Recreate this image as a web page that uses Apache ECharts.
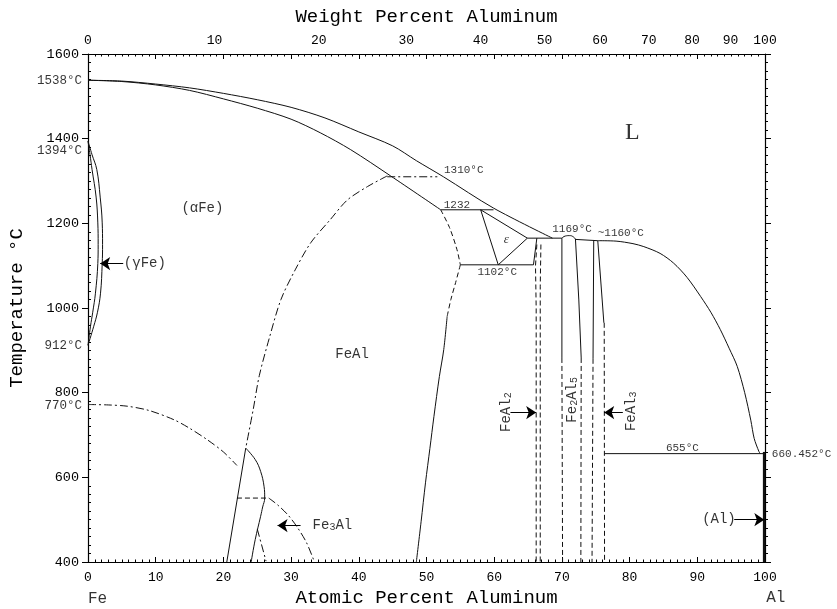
<!DOCTYPE html>
<html><head><meta charset="utf-8">
<script src="https://cdn.jsdelivr.net/npm/echarts@6/dist/echarts.min.js"></script>
<style>html,body{margin:0;padding:0;background:#fff}#c{width:837px;height:609px}</style>
</head><body><div id="c"></div>
<script>
// ---------- tick labels ----------
const weightTicks = [0,10,20,30,40,50,60,70,80,90,100];
const tempTicks = [400,600,800,1000,1200,1400,1600];

// ---------- phase boundaries (atomic % Al, °C) ----------
const liquidusFe = [[0,1538],[5,1536],[10,1529],[15,1520],[20,1507],[25,1492],[30,1474],[35,1449],[40,1416],[45,1383],[48.5,1348],[52.5,1310],[59.9,1236],[68.6,1165]];
const solidusFe = [[0,1538],[5,1535],[10,1527],[15,1514],[20,1494],[25,1472],[30,1446],[34.3,1414],[38.8,1374],[44.7,1312],[52.1,1232]];
const gammaOuter = [[0,1394],[0.6,1362],[1.3,1327],[1.8,1262],[2.1,1201],[2.15,1150],[2.1,1105],[1.85,1035],[1.4,990],[0.85,957],[0,912]];
const gammaInner = [[0,1394],[0.3,1362],[0.6,1327],[1.2,1262],[1.45,1201],[1.5,1150],[1.45,1105],[1.1,1035],[0.7,990],[0.37,957],[0,912]];
const b2DashUpper = [[52.1,1232],[53.4,1190],[54.5,1138],[55.0,1102]];
const b2DashLower = [[55.0,1102],[54.3,1060],[53.6,1020],[53.05,980]];
const b2Solid = [[53.05,980],[52.55,902],[51.9,838],[51.1,744],[50.5,668],[49.85,587],[49.2,495],[48.5,400]];
const a2b2 = [[44.2,1312],[41.3,1287],[38.3,1255],[35.8,1209],[32.9,1154],[30.6,1090],[28.5,1020],[26.8,930],[25.3,840],[24.4,760],[23.3,669]];
const curieA = [[0,772],[3,771],[5.8,768],[9,758],[12.7,736],[15,716],[17.6,689],[20,660],[22,628]];
const curieB = [[26.7,551],[28.0,535],[29.6,510],[31.0,480],[32.3,445],[33.4,402]];
const a2b2Low = [[25.0,478],[26.3,402]];
const fe3alLeft = [[20.5,400],[23.3,669]];
const fe3alRight = [[23.3,669],[24.7,642],[25.5,614],[26.0,579],[26.1,551],[25.8,530],[25.5,508],[24.7,453],[24.1,400]];
const fe3alDash = [[22.0,551],[26.7,551]];
const iso1310 = [[44.2,1310],[51.6,1310]];
const iso1232 = [[52.1,1232],[59.9,1232]];
const iso1102 = [[55.0,1102],[65.8,1102]];
const iso1165 = [[64.9,1165],[70.0,1165]];
const epsilon = [[58.0,1232],[60.6,1102],[64.9,1165],[58.0,1232]];
const feal2Link = [[65.8,1102],[66.3,1165]];
const feal2A = [[66.3,1150],[66.1,1100],[66.2,1000],[66.2,400]];
const feal2B = [[66.9,1150],[66.8,1050],[66.8,400]];
const fe2al5Left = [[70.0,1165],[70.0,882]];
const fe2al5LeftD = [[70.0,882],[70.1,400]];
const fe2al5Dome = [[70.0,1165],[70.5,1170],[71.1,1171],[71.6,1169],[72.0,1163]];
const fe2al5Right = [[72.0,1163],[72.5,1019],[72.85,882]];
const fe2al5RightD = [[72.85,882],[72.8,400]];
const iso1160 = [[72.0,1162],[75.3,1159]];
const feal3Left = [[74.7,1160],[74.6,880]];
const feal3LeftD = [[74.6,880],[74.45,400]];
const feal3Right = [[75.3,1159],[75.95,1019],[76.2,965]];
const feal3RightD = [[76.25,965],[76.3,400]];
const liquidusAl = [[75.3,1159],[78,1158],[80.5,1152],[82.1,1145],[84.5,1129],[86.5,1106],[88.5,1072],[90.5,1027],[92,990],[93.4,949],[94.7,905],[95.9,862],[97.0,800],[97.9,735],[98.4,692],[99.1,661],[99.3,656]];
const iso655 = [[76.3,656],[100,656]];
const alSolid = [[99.85,400],[99.85,660]];

// ---------- annotations ----------
const axisTempNotes = [[0,1538,'1538°C'],[0,1394,'1394°C'],[0,912,'912°C'],[0,770,'770°C']];
const tempNotes = [[55.5,1325,'1310°C'],[54.5,1244,'1232'],[60.44,1084,'1102°C'],[71.5,1187,'1169°C'],[78.7,1177,'~1160°C'],[87.8,669,'655°C'],[105.4,656,'660.452°C']];
const phaseNotes = [[80.4,1414,'L'],[16.9,1236,'(αFe)'],[39.0,890,'FeAl'],[8.4,1105,'(γFe)'],[61.8,1162,'ε'],[36.1,486,'Fe{s|3}Al'],[93.2,500,'(Al)'],[1.4,313,'Fe'],[101.6,315,'Al']];
const rotatedNotes = [[61.8,754,'FeAl{s|2}'],[71.5,783,'Fe{s|2}Al{s|5}'],[80.2,756,'FeAl{s|3}']];
const arrows = [[5.2,1.8,1105],[62.4,66.2,753],[79.0,76.25,753],[95.45,99.9,500],[31.4,28.0,486]];

// ---------- helpers ----------
const toAtomic = w => { const a = w/26.98, f = (100-w)/55.845; return 100*a/(a+f); };
const toWeight = x => { const a = x*26.98, f = (100-x)*55.845; return 100*a/(a+f); };
const INK = '#000';
const MONO = 'Liberation Mono';
const SERIF = 'Liberation Serif';
const DASH = [5,3];
const DASHDOT = [8,3,2,3];

function ln(data, type, smooth, width) {
  return {type:'line', data, symbol:'none', smooth: smooth || false, silent:true, animation:false,
    xAxisIndex:0, yAxisIndex:0, clip:false,
    lineStyle:{color:'#111', width: width || 1, type: type || 'solid'}};
}
function notes(list, label) {
  return {type:'scatter', symbolSize:0, silent:true, animation:false, clip:false,
    xAxisIndex:0, yAxisIndex:0,
    data: list.map(n => ({value:[n[0],n[1]], name:n[2]})),
    label: Object.assign({show:true, formatter: p => p.name, color:INK, textBorderWidth:0}, label)};
}
const subRich = {s:{fontSize:10, lineHeight:2, verticalAlign:'bottom', fontFamily:MONO, color:INK}};

const series = [
  ln(liquidusFe,'solid',0.3), ln(solidusFe,'solid',0.3),
  ln(gammaOuter,'solid',0.4), ln(gammaInner,'solid',0.4),
  ln(b2DashUpper, DASH, 0.3), ln(b2DashLower, DASH, 0.3), ln(b2Solid,'solid',0.3),
  ln(a2b2, DASHDOT, 0.3), ln(curieA, DASHDOT, 0.3), ln(curieB, DASHDOT, 0.3), ln(a2b2Low, DASHDOT),
  ln(fe3alLeft), ln(fe3alRight,'solid',0.4), ln(fe3alDash, DASH),
  ln(iso1310, DASHDOT), ln(iso1232), ln(iso1102), ln(iso1165), ln(epsilon),
  ln(feal2Link), ln(feal2A, DASH), ln(feal2B, DASH),
  ln(fe2al5Left), ln(fe2al5LeftD, DASH), ln(fe2al5Dome,'solid',0.5), ln(fe2al5Right), ln(fe2al5RightD, DASH),
  ln(iso1160), ln(feal3Left), ln(feal3LeftD, DASH), ln(feal3Right), ln(feal3RightD, DASH),
  ln(liquidusAl,'solid',0.3), ln(iso655), ln(alSolid,'solid',false,2.2),
  {type:'line', data:[], silent:true, animation:false, xAxisIndex:0, yAxisIndex:0,
    itemStyle:{color:INK},
    markLine:{silent:true, animation:false, symbol:['none','arrow'], symbolSize:10, label:{show:false},
      itemStyle:{color:INK},
      lineStyle:{color:INK, width:1, type:'solid'},
      data: arrows.map(a => [{coord:[a[0],a[2]]},{coord:[a[1],a[2]]}])}},
  notes(axisTempNotes, {position:'left', distance:6, fontFamily:MONO, fontSize:12.5}),
  notes(tempNotes, {position:'inside', fontFamily:MONO, fontSize:11}),
  notes(phaseNotes, {position:'inside', fontFamily:MONO, fontSize:14, rich: subRich}),
  notes(rotatedNotes, {position:'inside', rotate:90, fontFamily:MONO, fontSize:14, rich: subRich})
];
// per-item tweaks (style only)
series[series.length-4].data[1].label = {offset:[0,9]};
const pn = series[series.length-2].data;
pn[0].label = {fontFamily:SERIF, fontSize:24};
pn[4].label = {fontFamily:SERIF, fontSize:13, fontStyle:'italic'};
pn[7].label = {fontSize:16}; pn[8].label = {fontSize:16};

const axisFont = {fontFamily:MONO, fontSize:13, color:INK};
const option = {
  backgroundColor:'#fff',
  animation:false,
  grid:{left:88, right:72, top:54, bottom:47, containLabel:false, outerBoundsMode:'none'},
  xAxis:[
    {type:'value', position:'bottom', min:0, max:100, interval:10,
     name:'Atomic Percent Aluminum', nameLocation:'middle', nameGap:26,
     nameTextStyle:{fontFamily:MONO, fontSize:19, color:INK},
     axisLine:{lineStyle:{color:INK, width:1.2}},
     axisTick:{inside:true, length:5, lineStyle:{color:INK}},
     minorTick:{show:true, splitNumber:10, length:2.5, lineStyle:{color:INK}},
     splitLine:{show:false}, axisLabel:Object.assign({margin:9, formatter: v => String(v)}, axisFont)},
    {type:'value', position:'top', min:0, max:100, interval:10,
     name:'Weight Percent Aluminum', nameLocation:'middle', nameGap:28,
     nameTextStyle:{fontFamily:MONO, fontSize:19, color:INK},
     axisLine:{lineStyle:{color:INK, width:1.2}},
     axisTick:{inside:true, length:5, lineStyle:{color:INK}},
     minorTick:{show:true, splitNumber:10, length:2.5, lineStyle:{color:INK}},
     splitLine:{show:false},
     axisLabel:Object.assign({margin:7, customValues: weightTicks.map(toAtomic),
       formatter: v => String(Math.round(toWeight(v)))}, axisFont)}
  ],
  yAxis:[
    {type:'value', position:'left', min:400, max:1600, interval:200,
     name:'Temperature °C', nameLocation:'middle', nameGap:62, nameRotate:90,
     nameTextStyle:{fontFamily:MONO, fontSize:19, color:INK},
     axisLine:{lineStyle:{color:INK, width:1.2}},
     axisTick:{inside:false, length:6, lineStyle:{color:INK}},
     splitLine:{show:false},
     axisLabel:Object.assign({margin:9, customValues: tempTicks, formatter: v => String(v)}, axisFont, {fontSize:13.5})},
    {type:'value', position:'left', min:400, max:1600, interval:200,
     axisLine:{show:false}, axisTick:{show:false, inside:true},
     minorTick:{show:true, splitNumber:10, length:3, lineStyle:{color:INK}},
     axisLabel:{show:false}, splitLine:{show:false}},
    {type:'value', position:'right', min:400, max:1600, interval:200,
     axisLine:{show:true, lineStyle:{color:INK, width:1.2}},
     axisTick:{show:true, inside:false, length:6, lineStyle:{color:INK}},
     minorTick:{show:true, splitNumber:10, length:3, lineStyle:{color:INK}},
     axisLabel:{show:false}, splitLine:{show:false}}
  ],
  series
};
const chart = echarts.init(document.getElementById('c'), null, {renderer:'canvas'});
chart.setOption(option);
</script></body></html>
